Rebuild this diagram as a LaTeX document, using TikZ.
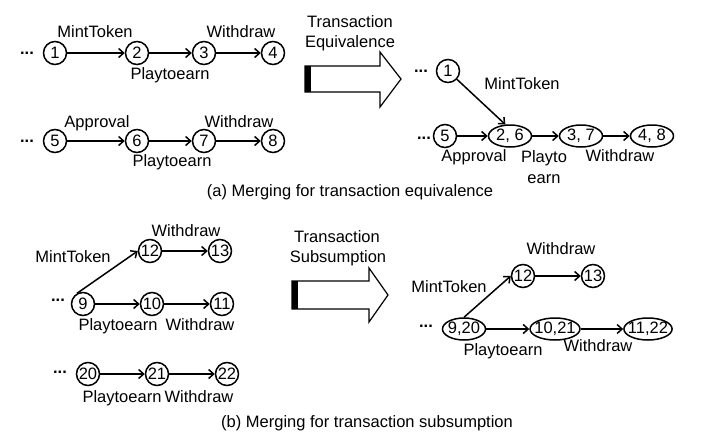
\documentclass[tikz,border=0pt]{standalone}
\usepackage{fontspec}
\setmainfont{Liberation Sans}
\usetikzlibrary{arrows.meta,shapes.geometric}
\tikzset{
    txnode/.style={circle, draw, line width=1.5pt, minimum size=23pt, inner sep=0pt},
    mergenode/.style={ellipse, draw, line width=1.5pt, minimum width=43pt, minimum height=22pt, inner xsep=-3pt, inner ysep=0pt},
    flow/.style={line width=1.5pt, -{Straight Barb[length=5pt,width=9pt]}},
    lbl/.style={inner sep=0pt, text height=12pt, text depth=3.5pt},
    dots/.style={inner sep=0pt, anchor=base, font=\bfseries\fontsize{16.5}{21}\selectfont},
    bigarrow/.style={draw, fill=white, line width=1.2pt, line join=miter}
}
\begin{document}
\begin{tikzpicture}[x=1pt, y=-1pt, font=\fontsize{16.5}{21}\selectfont]
            \useasboundingbox (0,0) rectangle (707,442);
            % (a) Before merging
            \node[dots] (da1) at ( 27, 54) {...};
            \node[txnode] (n1) at ( 55, 53) {1};
            \node[txnode] (n2) at (137, 53) {2};
            \node[txnode] (n3) at (204, 53) {3};
            \node[txnode] (n4) at (273, 53) {4};
            \draw[flow] (n1) -- (n2);
            \draw[flow] (n2) -- (n3);
            \draw[flow] (n3) -- (n4);
            \node[lbl] (l12) at ( 95, 33) {MintToken};
            \node[lbl] (l23) at (170, 75) {Playtoearn};
            \node[lbl] (l34) at (241, 33) {Withdraw};
            \node[dots] (da2) at ( 27,142) {...};
            \node[txnode] (n5) at ( 55,141) {5};
            \node[txnode] (n6) at (137,141) {6};
            \node[txnode] (n7) at (204,141) {7};
            \node[txnode] (n8) at (273,141) {8};
            \draw[flow] (n5) -- (n6);
            \draw[flow] (n6) -- (n7);
            \draw[flow] (n7) -- (n8);
            \node[lbl] (l56) at ( 97,123) {Approval};
            \node[lbl] (l67) at (172,162) {Playtoearn};
            \node[lbl] (l78) at (239,123) {Withdraw};
            % (a) Big arrow
            \draw[bigarrow] (305,66) -- (380,66) -- (380,52) -- (401,79) -- (380,107) -- (380,92) -- (305,92) -- cycle;
            \fill (305,66) rectangle (311,92);
            \node[lbl] (ta1) at (350,23) {Transaction};
            \node[lbl] (ta2) at (350,43) {Equivalence};
            % (a) After merging
            \node[dots] (da3) at (421, 72) {...};
            \node[txnode] (r1) at (448, 71) {1};
            \node[dots] (da4) at (424,139) {...};
            \node[txnode] (r5) at (445,136) {5};
            \node[mergenode] (m26) at (510,136) {2, 6};
            \node[mergenode] (m37) at (581,136) {3, 7};
            \node[mergenode] (m48) at (652,136) {4, 8};
            \draw[flow] (r1) -- (m26.112);
            \draw[flow] (r5) -- (m26);
            \draw[flow] (m26) -- (m37);
            \draw[flow] (m37) -- (m48);
            \node[lbl] (lr1) at (522, 85) {MintToken};
            \node[lbl] (lr5) at (474,157) {Approval};
            \node[inner sep=0pt, align=center] (lr26) at (544,167) {Playto\\earn};
            \node[lbl] (lr37) at (620,157) {Withdraw};
            \node (capa) at (350,192) {(a) Merging for transaction equivalence};
            % (b) Before merging
            \node[dots] (db1) at ( 58,301) {...};
            \node[txnode] (n9)  at ( 83,304) {9};
            \node[txnode] (n10) at (152,304) {10};
            \node[txnode] (n11) at (222,304) {11};
            \node[txnode] (n12) at (150,251) {12};
            \node[txnode] (n13) at (220,251) {13};
            \draw[flow] (n9.120) -- (n12.west);
            \draw[flow] (n12) -- (n13);
            \draw[flow] (n9) -- (n10);
            \draw[flow] (n10) -- (n11);
            \node[lbl] (l912) at ( 73,258) {MintToken};
            \node[lbl] (l1213) at (186,232) {Withdraw};
            \node[lbl] (l910) at (118,326) {Playtoearn};
            \node[lbl] (l1011) at (200,326) {Withdraw};
            \node[dots] (db2) at ( 60,373) {...};
            \node[txnode] (n20) at ( 88,374) {20};
            \node[txnode] (n21) at (157,374) {21};
            \node[txnode] (n22) at (227,374) {22};
            \draw[flow] (n20) -- (n21);
            \draw[flow] (n21) -- (n22);
            \node[lbl] (l2021) at (122,398) {Playtoearn};
            \node[lbl] (l2122) at (199,398) {Withdraw};
            % (b) Big arrow
            \draw[bigarrow] (292,281) -- (369,281) -- (369,268) -- (388,295) -- (369,322) -- (369,309) -- (292,309) -- cycle;
            \fill (292,281) rectangle (298,309);
            \node[lbl] (tb1) at (337,238) {Transaction};
            \node[lbl] (tb2) at (338,258) {Subsumption};
            % (b) After merging
            \node[dots] (db3) at (426,327) {...};
            \node[mergenode] (m920)  at (464,329) {9,20};
            \node[mergenode] (m1021) at (555,329) {10,21};
            \node[mergenode] (m1122) at (648,329) {11,22};
            \node[txnode] (r12) at (523,276) {12};
            \node[txnode] (r13) at (593,276) {13};
            \draw[flow] (m920.north) -- (r12.west);
            \draw[flow] (r12) -- (r13);
            \draw[flow] (m920) -- (m1021);
            \draw[flow] (m1021) -- (m1122);
            \node[lbl] (lr912) at (449,288) {MintToken};
            \node[lbl] (lr1213) at (561,250) {Withdraw};
            \node[lbl] (lr910) at (503,351) {Playtoearn};
            \node[lbl] (lr1011) at (598,347) {Withdraw};
            \node (capb) at (367,423) {(b) Merging for transaction subsumption};
\end{tikzpicture}
\end{document}
